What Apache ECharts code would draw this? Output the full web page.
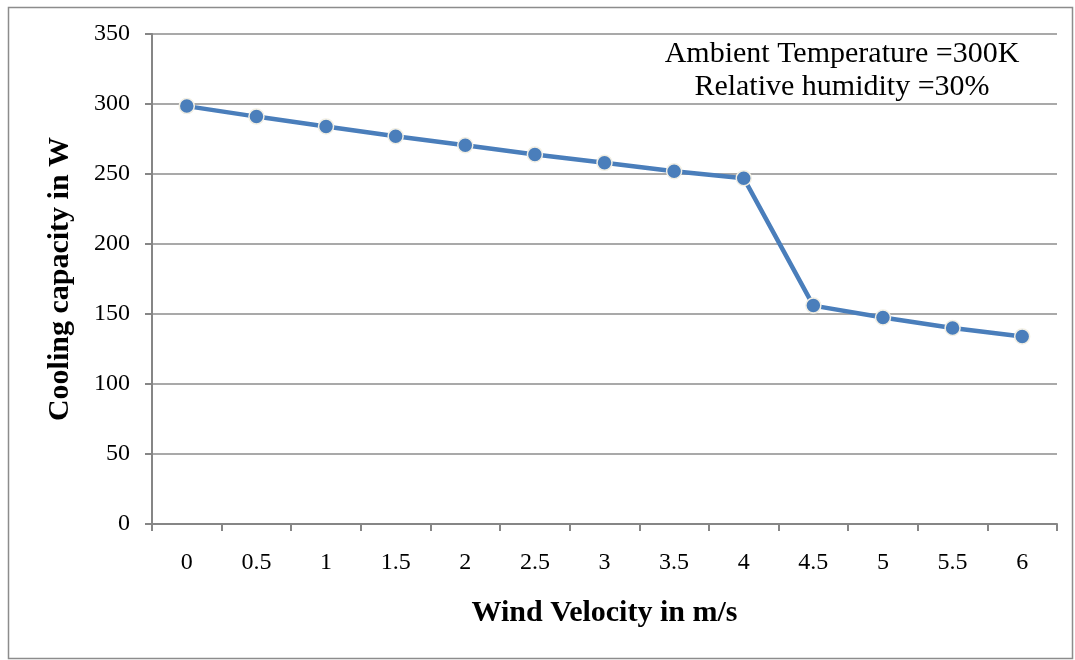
<!DOCTYPE html>
<html>
<head>
<meta charset="utf-8">
<script src="https://cdn.jsdelivr.net/npm/echarts@6/dist/echarts.min.js"></script>
<style>html,body{margin:0;padding:0;background:#fff}#c{width:1075px;height:660px}</style>
</head>
<body>
<div id="c"></div>
<script>
const categories = ['0','0.5','1','1.5','2','2.5','3','3.5','4','4.5','5','5.5','6'];
const coolingCapacity = [298.5, 291, 284, 277, 270.5, 264, 258, 252, 247, 156, 147.5, 140, 134];
const yTicks = {min: 0, max: 350, interval: 50};
const annotationLines = ['Ambient Temperature =300K', 'Relative humidity =30%'];

const font = '"Liberation Serif", "Times New Roman", serif';
const chart = echarts.init(document.getElementById('c'));
chart.setOption({
  animation: false,
  backgroundColor: '#fff',
  grid: {left: 152, right: 18, top: 34, bottom: 136, containLabel: false},
  graphic: [
    {type: 'rect', shape: {x: 8.5, y: 7.5, width: 1064, height: 651},
     style: {fill: 'none', stroke: '#8c8c8c', lineWidth: 1.5}, z: -1},
    {type: 'text', x: 842, y: 38,
     style: {text: annotationLines.join('\n'), font: '30px ' + font, fill: '#000',
             textAlign: 'center', textVerticalAlign: 'top', lineHeight: 33}}
  ],
  xAxis: {
    type: 'category', data: categories, boundaryGap: true,
    name: 'Wind Velocity in m/s', nameLocation: 'middle', nameGap: 74,
    nameTextStyle: {fontFamily: font, fontSize: 30, fontWeight: 'bold', color: '#000'},
    axisLine: {lineStyle: {color: '#868686', width: 2}},
    axisTick: {show: true, alignWithLabel: false, length: 7, lineStyle: {color: '#868686', width: 2}},
    axisLabel: {fontFamily: font, fontSize: 24, color: '#000', margin: 27, interval: 0},
    splitLine: {show: false}
  },
  yAxis: {
    type: 'value', min: yTicks.min, max: yTicks.max, interval: yTicks.interval,
    name: 'Cooling capacity in W', nameLocation: 'middle', nameGap: 77,
    nameTextStyle: {fontFamily: font, fontSize: 30, fontWeight: 'bold', color: '#000'},
    axisLine: {show: true, lineStyle: {color: '#868686', width: 2}},
    axisTick: {show: true, length: 7, lineStyle: {color: '#868686', width: 2}},
    axisLabel: {fontFamily: font, fontSize: 24, color: '#000', margin: 22},
    splitLine: {show: true, lineStyle: {color: '#8c8c8c', width: 1.5}}
  },
  series: [{
    type: 'line', data: coolingCapacity,
    symbol: 'circle', symbolSize: 15,
    lineStyle: {color: '#4a7ebb', width: 4.5},
    itemStyle: {color: '#4a7ebb', borderColor: '#f2efe4', borderWidth: 1.5},
    z: 5
  }]
});
</script>
</body>
</html>
